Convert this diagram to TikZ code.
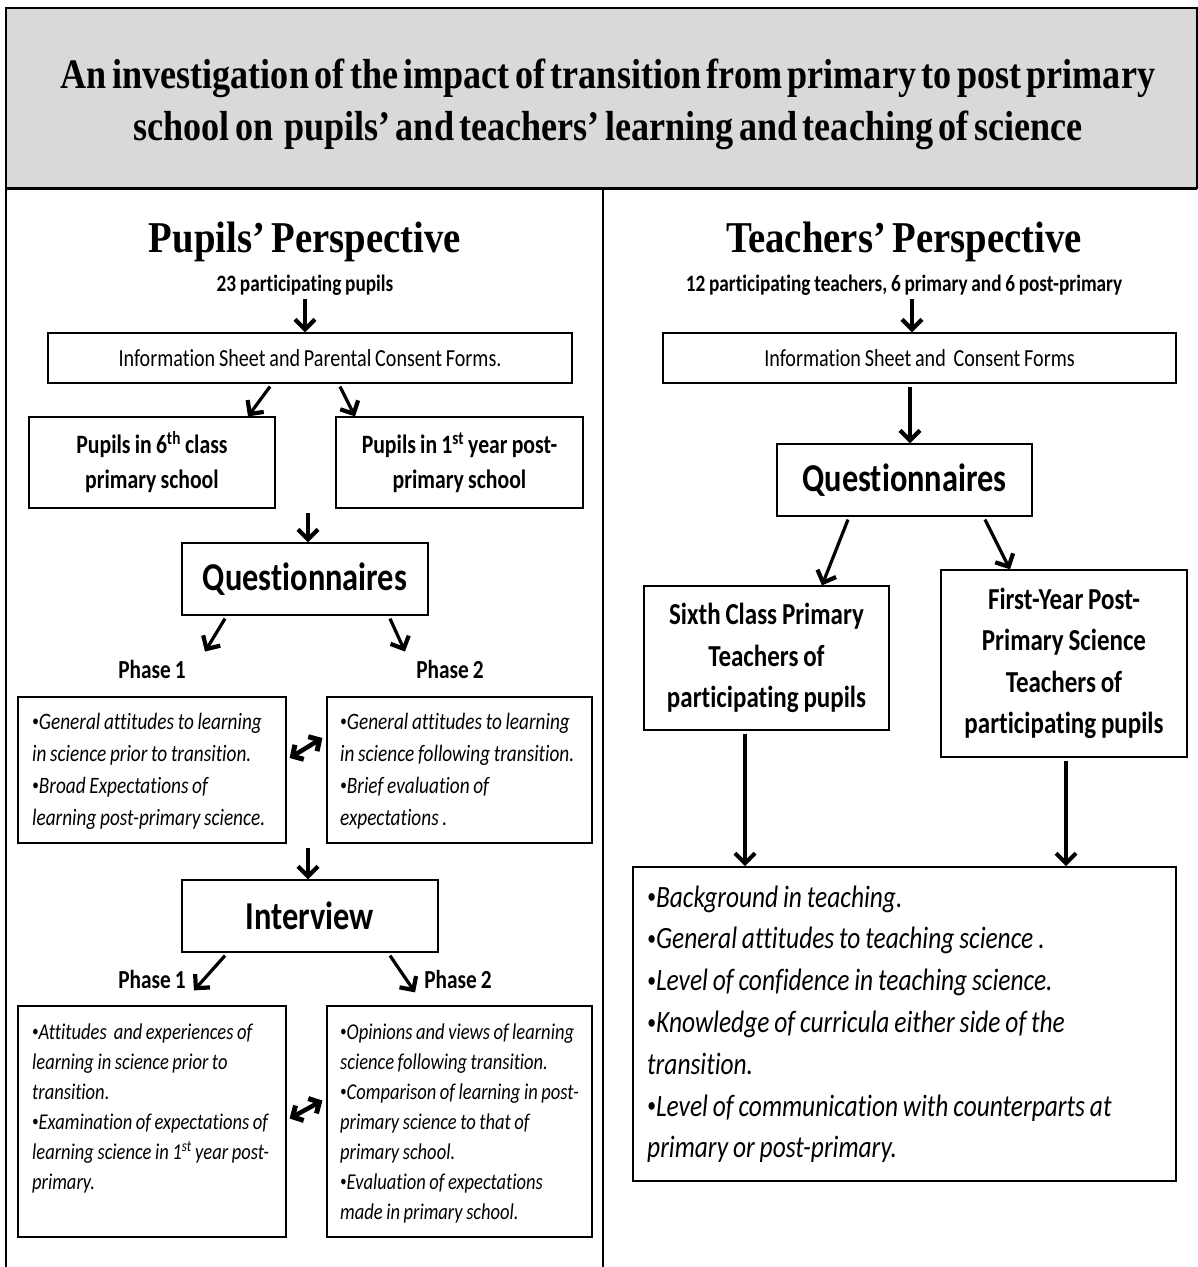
\documentclass[tikz,border=0pt]{standalone}
\usepackage{fontspec}
\setmainfont{Carlito}[FakeStretch=0.82, WordSpace=0.85, Ligatures=NoCommon]
\newfontfamily\titlefont{Liberation Serif}[FakeStretch=0.86, WordSpace=0.6]
\newfontfamily\headfont{Liberation Serif}[FakeStretch=0.88, WordSpace=0.7]
\usetikzlibrary{arrows.meta}
\newcommand{\smallbul}{\raisebox{0.1em}{\scalebox{0.7}{•}}}

\begin{document}
\begin{tikzpicture}[x=1pt, y=-1pt,
	box/.style={draw, line width=1.2pt, inner sep=0pt},
	head/.style={font=\headfont\bfseries\fontsize{44pt}{50pt}\selectfont, anchor=base, inner sep=0pt},
	sub/.style={font=\bfseries\fontsize{23.5pt}{28pt}\selectfont, anchor=base, inner sep=0pt},
	phase/.style={font=\bfseries\fontsize{26pt}{30pt}\selectfont, anchor=base, inner sep=0pt},
	big/.style={font=\bfseries\fontsize{39.5pt}{44pt}\selectfont},
	two/.style={font=\bfseries\fontsize{26.5pt}{35pt}\selectfont, align=center},
	three/.style={font=\bfseries\fontsize{30.5pt}{41.5pt}\selectfont, align=center},
	bul/.style={anchor=base west, align=flush left, text width=#1, inner sep=0pt},
	flow/.style={line width=3.2pt, -{Straight Barb[length=10pt, width=20pt, line width=4.2pt]}},
	both/.style={line width=4.5pt, {Straight Barb[length=8pt, width=17pt, line width=5pt]}-{Straight Barb[length=8pt, width=17pt, line width=5pt]}}]
	\useasboundingbox (0,0) rectangle (1198,1267);
	\draw[fill=black!15, line width=2pt] (6,8) rectangle (1197,188);
	\draw[line width=3pt] (6,188) -- (1197,188);
	\draw[line width=2pt] (6,188) -- (6,1267);
	\draw[line width=2pt] (603,188) -- (603,1267);
	\node[anchor=base, align=flush center, text width=1180pt, inner sep=0pt, font=\titlefont\bfseries\fontsize{42pt}{52pt}\selectfont] (title) at (608,88) {An investigation of the impact of transition from primary to post primary\\school on~ pupils’ and teachers’ learning and teaching of science};

	\node[head] (pupH) at (305,252) {Pupils’ Perspective};
	\node[sub] (p23) at (305,291) {23 participating pupils};
	\node[box, minimum width=524pt, minimum height=50pt, font=\fontsize{24.5pt}{28pt}\selectfont] (info1) at (310,358) {Information Sheet and Parental Consent Forms.};
	\node[box, two, minimum width=246pt, minimum height=91pt] (pup6) at (152,462.5) {Pupils in 6\textsuperscript{th} class\\primary school};
	\node[box, two, minimum width=247pt, minimum height=91pt] (pup1) at (459.5,462.5) {Pupils in 1\textsuperscript{st} year post-\\primary school};
	\node[box, big, minimum width=246pt, minimum height=72pt] (quest1) at (305,579) {Questionnaires};
	\node[phase] (ph1) at (152,678) {Phase 1};
	\node[phase] (ph2) at (450,678) {Phase 2};
	\node[box, minimum width=268pt, minimum height=146pt] (qp1) at (152,770) {};
	\node[box, minimum width=265pt, minimum height=146pt] (qp2) at (459.5,770) {};
	\node[bul=260pt, font=\itshape\fontsize{23.5pt}{32pt}\selectfont] (qp1t) at (32,729) {\smallbul General attitudes to learning\\in science prior to transition.\\\smallbul Broad Expectations of\\learning post-primary science.};
	\node[bul=260pt, font=\itshape\fontsize{23.5pt}{32pt}\selectfont] (qp2t) at (340,729) {\smallbul General attitudes to learning\\in science following transition.\\\smallbul Brief evaluation of\\expectations .};
	\node[box, big, minimum width=256pt, minimum height=72pt] (interv) at (310,916) {Interview};
	\node[phase] (iph1) at (152,988) {Phase 1};
	\node[phase] (iph2) at (458,988) {Phase 2};
	\node[box, minimum width=268pt, minimum height=231pt] (ip1) at (152,1121.5) {};
	\node[box, minimum width=265pt, minimum height=231pt] (ip2) at (459.5,1121.5) {};
	\node[bul=260pt, font=\itshape\fontsize{22.6pt}{30pt}\selectfont] (ip1t) at (32,1039) {\smallbul Attitudes~ and experiences of\\learning in science prior to\\transition.\\\smallbul Examination of expectations of\\learning science in 1\textsuperscript{st} year post-\\primary.};
	\node[bul=260pt, font=\itshape\fontsize{22.6pt}{30pt}\selectfont] (ip2t) at (340,1039) {\smallbul Opinions and views of learning\\science following transition.\\\smallbul Comparison of learning in post-\\primary science to that of\\primary school.\\\smallbul Evaluation of expectations\\made in primary school.};

	\node[head] (teaH) at (904,252) {Teachers’ Perspective};
	\node[sub] (t12) at (904,291) {12 participating teachers, 6 primary and 6 post-primary};
	\node[box, minimum width=513pt, minimum height=50pt, font=\fontsize{24.5pt}{28pt}\selectfont] (info2) at (919.5,358) {Information Sheet and~ Consent Forms};
	\node[box, big, minimum width=255pt, minimum height=72pt] (quest2) at (904.5,480) {Questionnaires};
	\node[box, three, minimum width=245pt, minimum height=144pt] (sixth) at (766.5,658) {Sixth Class Primary\\Teachers of\\participating pupils};
	\node[box, three, minimum width=246pt, minimum height=187pt] (first) at (1064,663.5) {First-Year Post-\\Primary Science\\Teachers of\\participating pupils};
	\node[box, line width=1.6pt, minimum width=543pt, minimum height=314pt] (topics) at (904.5,1024) {};
	\node[bul=530pt, font=\itshape\fontsize{31pt}{41.8pt}\selectfont] (topt) at (647,907) {\smallbul Background in teaching.\\\smallbul General attitudes to teaching science .\\\smallbul Level of confidence in teaching science.\\\smallbul Knowledge of curricula either side of the\\transition.\\\smallbul Level of communication with counterparts at\\primary or post-primary.};

	\coordinate (p23a) at ([yshift=-4pt]p23.south);
	\coordinate (pupmid) at (308,513);
	\coordinate (qpmid) at (308,848);
	\coordinate (t12a) at ([xshift=8pt, yshift=-4pt]t12.south);
	\coordinate (info2a) at ([xshift=-9.5pt, yshift=-3pt]info2.south);
	\coordinate (sixtha) at ([xshift=-21.5pt, yshift=-3pt]sixth.south);
	\coordinate (firsta) at ([xshift=2pt, yshift=-3pt]first.south);

	\draw[flow] (p23a) -- (p23a |- info1.north);
	\draw[flow] ([xshift=-40pt, yshift=-3pt]info1.south) -- ([xshift=96pt]pup6.north);
	\draw[flow] ([xshift=30pt, yshift=-3pt]info1.south) -- ([xshift=-104.5pt]pup1.north);
	\draw[flow] (pupmid) -- (pupmid |- quest1.north);
	\draw[flow] ([xshift=-80pt, yshift=-3pt]quest1.south) -- ([xshift=53pt, yshift=8pt]ph1.north);
	\draw[flow] ([xshift=85pt, yshift=-3pt]quest1.south) -- ([xshift=-45pt, yshift=8pt]ph2.north);
	\draw[both] ([xshift=3pt, yshift=12pt]qp1.east) -- ([xshift=-4pt, yshift=32pt]qp2.west);
	\draw[flow] (qpmid) -- (qpmid |- interv.north);
	\draw[flow] ([xshift=-85pt, yshift=-3pt]interv.south) -- ([xshift=8pt, yshift=-2pt]iph1.south east);
	\draw[flow] ([xshift=80pt, yshift=-3pt]interv.south) -- ([xshift=-9pt, yshift=-4pt]iph2.south west);
	\draw[both] ([xshift=3pt, yshift=3pt]ip1.east) -- ([xshift=-4pt, yshift=21pt]ip2.west);

	\draw[flow] (t12a) -- (t12a |- info2.north);
	\draw[flow] (info2a) -- (info2a |- quest2.north);
	\draw[flow] ([xshift=-56.5pt, yshift=-3pt]quest2.south) -- ([xshift=55.5pt]sixth.north);
	\draw[flow] ([xshift=80.5pt, yshift=-3pt]quest2.south) -- ([xshift=-54pt]first.north);
	\draw[flow] (sixtha) -- (sixtha |- topics.north);
	\draw[flow] (firsta) -- (firsta |- topics.north);
\end{tikzpicture}
\end{document}
